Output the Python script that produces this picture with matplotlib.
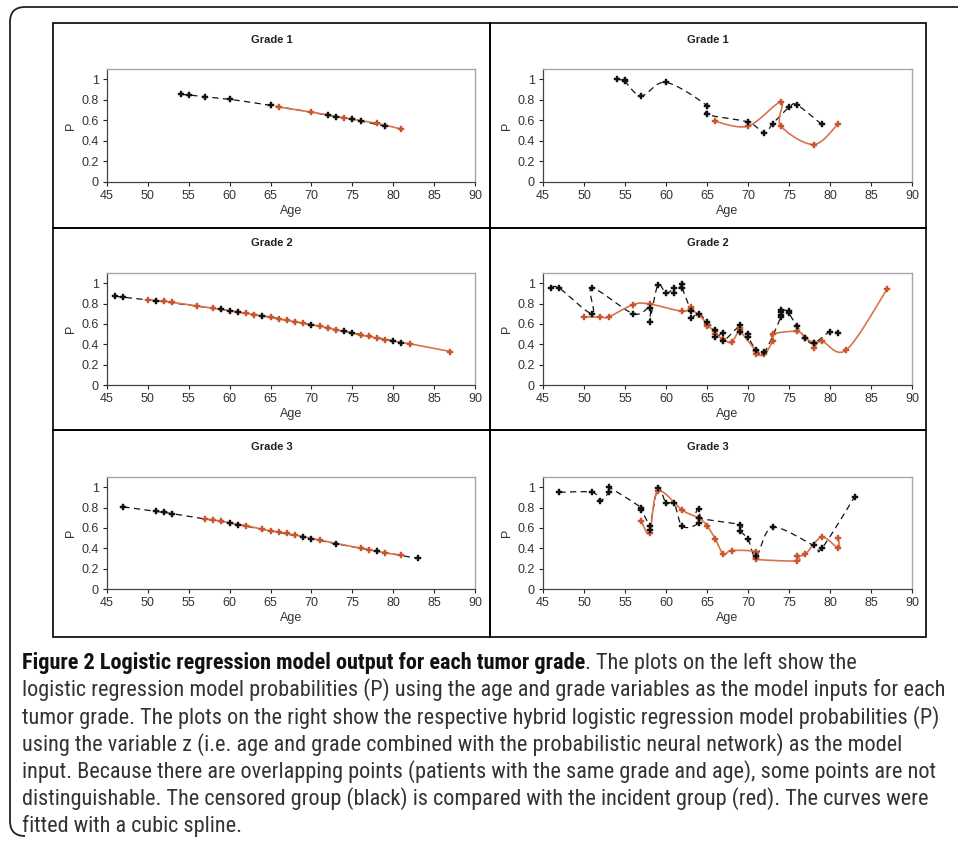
import numpy as np
import matplotlib
matplotlib.use('Agg')
import matplotlib.pyplot as plt
from matplotlib.path import Path
from matplotlib.patches import PathPatch, Rectangle

# Grade 1 - logistic regression (left)
g1_cens_age = [54, 55, 57, 60, 65, 72, 73, 75, 76, 79]
g1_cens_p = [0.853, 0.847, 0.83, 0.805, 0.746, 0.651, 0.635, 0.609, 0.593, 0.544]
g1_inc_age = [66, 70, 74, 78, 81]
g1_inc_p = [0.73, 0.68, 0.625, 0.57, 0.515]

# Grade 2 - logistic regression (left)
g2_cens_age = [46, 47, 51, 59, 60, 61, 64, 70, 74, 75, 80, 81]
g2_cens_p = [0.872, 0.862, 0.826, 0.743, 0.73, 0.717, 0.681, 0.592, 0.526, 0.513, 0.434, 0.414]
g2_inc_age = [50, 52, 53, 56, 58, 62, 63, 65, 66, 67, 68, 69, 71, 72, 73, 76, 77, 78, 79, 82, 87]
g2_inc_p = [0.836, 0.822, 0.812, 0.776, 0.753, 0.704, 0.69, 0.664, 0.648, 0.635, 0.622, 0.605,
            0.579, 0.56, 0.543, 0.49, 0.477, 0.46, 0.444, 0.405, 0.329]

# Grade 3 - logistic regression (left)
g3_cens_age = [47, 51, 52, 53, 60, 61, 69, 70, 73, 78, 83]
g3_cens_p = [0.806, 0.763, 0.753, 0.74, 0.648, 0.632, 0.507, 0.493, 0.444, 0.372, 0.3]
g3_inc_age = [57, 58, 59, 62, 64, 65, 66, 67, 68, 71, 76, 77, 79, 81]
g3_inc_p = [0.69, 0.678, 0.664, 0.622, 0.586, 0.572, 0.559, 0.546, 0.53, 0.48, 0.401, 0.385, 0.355, 0.332]

# Grade 1 - hybrid model (right)
h1_cens_age = [54, 55, 55, 57, 60, 65, 65, 70, 72, 73, 75, 76, 79]
h1_cens_p = [1.0, 0.99, 0.98, 0.84, 0.97, 0.743, 0.658, 0.583, 0.476, 0.567, 0.726, 0.749, 0.56]
h1_inc_age = [66, 70, 74, 74, 78, 81]
h1_inc_p = [0.59, 0.544, 0.778, 0.547, 0.365, 0.567]

# Grade 2 - hybrid model (right)
h2_cens_age = [46, 47, 51, 51, 56, 58, 58, 59, 60, 61, 61, 62, 62, 63, 63, 64, 65, 66, 66, 67, 67,
               69, 69, 70, 70, 71, 72, 74, 74, 74, 74, 75, 75, 76, 77, 78, 80, 81]
h2_cens_p = [0.95, 0.95, 0.70, 0.95, 0.70, 0.76, 0.62, 0.98, 0.90, 0.95, 0.905, 0.99, 0.95, 0.73, 0.655,
             0.70, 0.615, 0.545, 0.47, 0.51, 0.43, 0.585, 0.525, 0.505, 0.475, 0.345, 0.32,
             0.665, 0.69, 0.715, 0.74, 0.725, 0.705, 0.575, 0.46, 0.41, 0.525, 0.51]
h2_inc_age = [50, 52, 53, 56, 58, 62, 63, 63, 64, 65, 65, 66, 66, 67, 68, 69, 69, 71, 71, 72, 73, 73,
              76, 77, 78, 78, 79, 82, 87]
h2_inc_p = [0.668, 0.668, 0.668, 0.79, 0.796, 0.724, 0.766, 0.745, 0.69, 0.60, 0.579, 0.533, 0.50,
            0.45, 0.42, 0.56, 0.536, 0.33, 0.30, 0.30, 0.434, 0.50, 0.526, 0.46, 0.41, 0.36, 0.43,
            0.345, 0.947]

# Grade 3 - hybrid model (right)
h3_cens_age = [47, 51, 52, 53, 53, 57, 57, 58, 58, 59, 60, 61, 62, 64, 64, 64, 69, 69, 70, 71, 73,
               78, 79, 83]
h3_cens_p = [0.95, 0.95, 0.868, 0.95, 1.0, 0.80, 0.78, 0.615, 0.575, 0.99, 0.845, 0.84, 0.615,
             0.65, 0.79, 0.70, 0.632, 0.572, 0.493, 0.32, 0.605, 0.428, 0.40, 0.905]
h3_inc_age = [57, 58, 59, 62, 64, 65, 66, 67, 68, 71, 71, 71, 76, 76, 77, 79, 81, 81]
h3_inc_p = [0.67, 0.55, 0.96, 0.773, 0.697, 0.622, 0.493, 0.342, 0.378, 0.368, 0.31, 0.29,
            0.276, 0.326, 0.342, 0.51, 0.40, 0.497]

titles = ['Grade 1', 'Grade 2', 'Grade 3']

caption_bold = 'Figure 2 Logistic regression model output for each tumor grade'
caption_rest = '. The plots on the left show the'
caption_lines = [
    'logistic regression model probabilities (P) using the age and grade variables as the model inputs for each',
    'tumor grade. The plots on the right show the respective hybrid logistic regression model probabilities (P)',
    'using the variable z (i.e. age and grade combined with the probabilistic neural network) as the model',
    'input. Because there are overlapping points (patients with the same grade and age), some points are not',
    'distinguishable. The censored group (black) is compared with the incident group (red). The curves were',
    'fitted with a cubic spline.',
]

W, H = 958, 844
RED = '#c8552c'
RED_LINE = '#d8744c'

plt.rcParams['font.family'] = ['Liberation Sans', 'DejaVu Sans']


def fx(x):
    return x / W


def fy(y):
    return 1 - y / H


def smooth(xs, ys, sx, sy, n=24):
    # excel style smoothed line (bezier through the points)
    pts = np.column_stack([np.array(xs) * sx, np.array(ys) * sy])
    out = [pts[0]]
    t = np.linspace(0, 1, n)[1:, None]
    for i in range(len(pts) - 1):
        p0 = pts[i - 1] if i > 0 else pts[i]
        p1, p2 = pts[i], pts[i + 1]
        p3 = pts[i + 2] if i + 2 < len(pts) else pts[i + 1]
        c1 = p1 + (p2 - p0) / 6
        c2 = p2 - (p3 - p1) / 6
        seg = (1 - t) ** 3 * p1 + 3 * (1 - t) ** 2 * t * c1 + 3 * (1 - t) * t ** 2 * c2 + t ** 3 * p2
        out.extend(seg)
    out = np.array(out)
    return out[:, 0] / sx, out[:, 1] / sy


fig = plt.figure(figsize=(W / 100, H / 100), dpi=100)

# outer rounded frame (open at right and bottom)
r = 15
verts = [(W + 5, 7), (10 + r, 7), (10, 7), (10, 7 + r), (10, 836 - r), (10, 836), (10 + r, 836)]
codes = [Path.MOVETO, Path.LINETO, Path.CURVE3, Path.CURVE3, Path.LINETO, Path.CURVE3, Path.CURVE3]
frame = Path([(fx(x), fy(y)) for x, y in verts], codes)
fig.patches.append(PathPatch(frame, transform=fig.transFigure, fill=False, lw=1.3,
                             edgecolor='#222222'))

# panel boxes
rows = [(23, 228), (228, 430), (430, 637)]
cols = [(53, 490), (490, 926)]
for (y0, y1) in rows:
    for (x0, x1) in cols:
        fig.patches.append(Rectangle((fx(x0), fy(y1)), fx(x1 - x0), (y1 - y0) / H,
                                     transform=fig.transFigure, fill=False, lw=1.2,
                                     edgecolor='black'))

ax_rows = [(69, 182), (273, 385), (477, 589)]
ax_cols = [(107, 475), (543, 912)]
title_y = [40, 243, 447]

data = [
    [(g1_cens_age, g1_cens_p, g1_inc_age, g1_inc_p), (h1_cens_age, h1_cens_p, h1_inc_age, h1_inc_p)],
    [(g2_cens_age, g2_cens_p, g2_inc_age, g2_inc_p), (h2_cens_age, h2_cens_p, h2_inc_age, h2_inc_p)],
    [(g3_cens_age, g3_cens_p, g3_inc_age, g3_inc_p), (h3_cens_age, h3_cens_p, h3_inc_age, h3_inc_p)],
]

for i, (yt, yb) in enumerate(ax_rows):
    for j, (xl, xr) in enumerate(ax_cols):
        ax = fig.add_axes([fx(xl), fy(yb), (xr - xl) / W, (yb - yt) / H])
        ca, cp, ia, ip = data[i][j]
        sx = (xr - xl) / 45
        sy = (yb - yt) / 1.1
        bx, by = smooth(ca, cp, sx, sy)
        rx, ry = smooth(ia, ip, sx, sy)
        ax.plot(bx, by, color='#111111', lw=0.9, ls=(0, (5, 3.5)), zorder=2)
        ax.plot(rx, ry, color=RED_LINE, lw=1.2, zorder=3)
        ax.plot(ia, ip, ls='none', marker='P', ms=4, color=RED, mec=RED, mew=0.3, zorder=4)
        ax.plot(ca, cp, ls='none', marker='P', ms=4, color='#111111', mec='#111111', mew=0.3,
                zorder=5)
        ax.set_xlim(45, 90)
        ax.set_ylim(0, 1.1)
        ax.set_xticks(np.arange(45, 91, 5))
        ax.set_yticks([0, 0.2, 0.4, 0.6, 0.8, 1])
        ax.set_yticklabels(['0', '0.2', '0.4', '0.6', '0.8', '1'])
        ax.tick_params(labelsize=9, length=3, width=0.8, colors='#222222', labelcolor='#333333',
                       pad=3)
        for s in ['top', 'right']:
            ax.spines[s].set_color('#a8a8a8')
            ax.spines[s].set_linewidth(1.0)
        for s in ['left', 'bottom']:
            ax.spines[s].set_color('#444444')
            ax.spines[s].set_linewidth(0.9)
        ax.set_xlabel('Age', fontsize=9, color='#333333', labelpad=2)
        ax.set_ylabel('P', fontsize=9, color='#333333', labelpad=3)
        cx = (cols[j][0] + cols[j][1]) / 2
        fig.text(fx(cx), fy(title_y[i]), titles[i], ha='center', va='center', fontsize=8,
                 weight='bold', color='#222222')

# caption: narrow face, size chosen so the longest plain line spans the box
cap_font = ['Roboto Condensed', 'DejaVu Sans']
cap_x = 22
cap_y0 = 669
cap_dy = 27.2
cap_size = 14
t = fig.text(fx(cap_x), fy(cap_y0), caption_bold, fontsize=cap_size, weight='bold',
             family=cap_font, color='#111111', va='baseline')
t2 = fig.text(0, fy(cap_y0), caption_rest, fontsize=cap_size, family=cap_font, color='#333333',
              va='baseline')
body = []
for k, line in enumerate(caption_lines):
    body.append(fig.text(fx(cap_x), fy(cap_y0 + cap_dy * (k + 1)), line, fontsize=cap_size,
                         family=cap_font, color='#333333', va='baseline'))
fig.canvas.draw()
line_w = max(b.get_window_extent().width for b in body)
first_w = t.get_window_extent().width + t2.get_window_extent().width
scale = min((948 - cap_x) / line_w, (955 - cap_x) / first_w)
for txt in [t, t2] + body:
    txt.set_fontsize(cap_size * scale)
fig.canvas.draw()
t2.set_x(t.get_window_extent().x1 / W)

fig.savefig('out.png', dpi=100)
